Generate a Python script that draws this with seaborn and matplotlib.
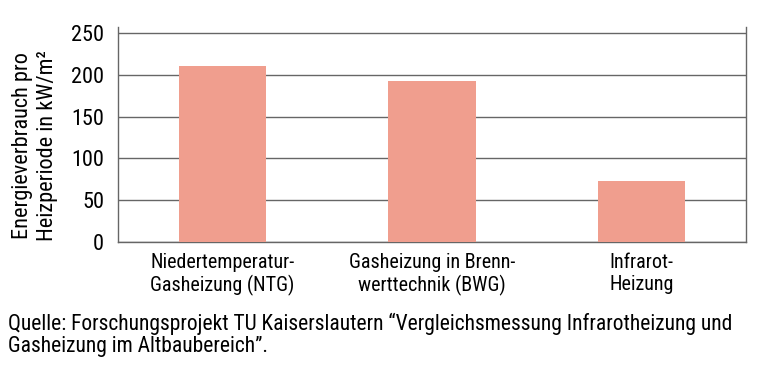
import matplotlib
matplotlib.use("Agg")
import matplotlib.pyplot as plt
import seaborn as sns
import pandas as pd

categories = ["Niedertemperatur-\nGasheizung (NTG)",
              "Gasheizung in Brenn-\nwerttechnik (BWG)",
              "Infrarot-\nHeizung"]
values = [210, 192, 73]
yticks = [0, 50, 100, 150, 200, 250]
ylabel = "Energieverbrauch pro\nHeizperiode in kW/m²"
source = ("Quelle: Forschungsprojekt TU Kaiserslautern \u201cVergleichsmessung Infrarotheizung und\n"
          "Gasheizung im Altbaubereich\u201d.")

df = pd.DataFrame({"typ": categories, "wert": values})

sns.set_style("white")
plt.rcParams["font.family"] = ["Roboto Condensed", "Liberation Sans", "DejaVu Sans"]
plt.rcParams["text.color"] = "black"
plt.rcParams["axes.labelcolor"] = "black"

fig = plt.figure(figsize=(7.65, 3.71), dpi=100)
ax = fig.add_axes([0.1542, 0.3477, 0.8210, 0.5795])

sns.barplot(data=df, x="typ", y="wert", color="#F09E8E", saturation=1,
            width=0.416, linewidth=0, ax=ax, zorder=3)

ax.set_ylim(0, 257)
ax.set_xlim(-0.5, 2.5)
ax.set_yticks(yticks)
ax.yaxis.grid(True, color="#666666", linewidth=1.0, zorder=0)
ax.set_axisbelow(True)
for s in ["left", "right", "bottom"]:
    ax.spines[s].set_color("#666666")
    ax.spines[s].set_linewidth(1.0)
ax.spines["top"].set_visible(False)
ax.tick_params(axis="both", length=0, colors="black")
ax.tick_params(axis="y", pad=10, labelsize=16)
ax.tick_params(axis="x", pad=8, labelsize=14.5)
for lbl in ax.get_xticklabels():
    lbl.set_linespacing(1.2)
ax.set_xlabel("")
ax.set_ylabel("")

fig.text(35 / 765, 1 - 146 / 371, ylabel, rotation=90, fontsize=16,
         ha="center", va="center", linespacing=1.25, multialignment="center")

fig.text(8 / 765, 1 - 313 / 371, source, fontsize=15.5, ha="left", va="top",
         linespacing=1.05)

fig.savefig("out.png", dpi=100)
